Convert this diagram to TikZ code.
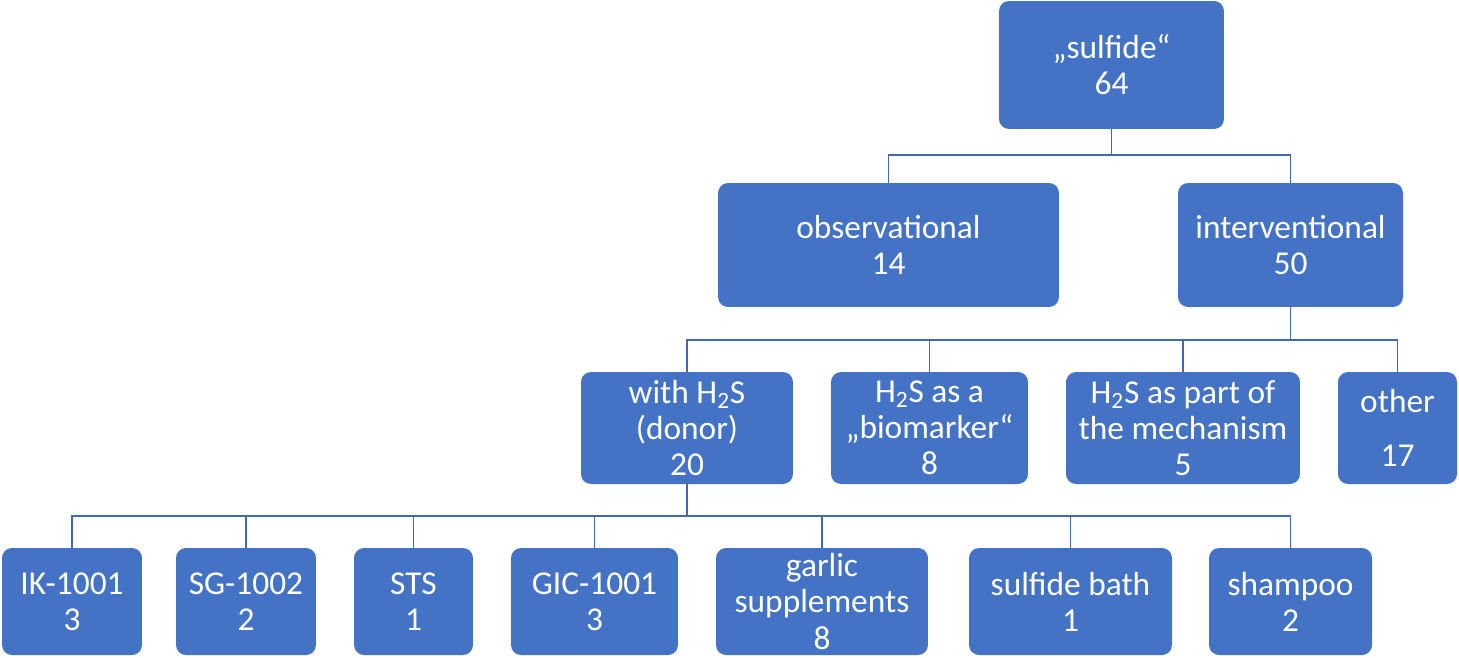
\documentclass[tikz,border=0pt]{standalone}
\usepackage{fontspec}
\setmainfont{Carlito}
\usepackage{tikz}
\usetikzlibrary{positioning}

\definecolor{boxblue}{HTML}{4472C4}
\definecolor{linkblue}{HTML}{3F68B5}

\tikzset{
  box/.style={fill=boxblue, text=white, rounded corners=0.2cm, align=center,
    inner sep=0pt, font=\fontsize{19}{20.5}\selectfont},
  link/.style={draw=linkblue, line width=1pt}
}

\begin{document}
\begin{tikzpicture}[x=0.02cm,y=-0.02cm]
			\useasboundingbox (0,0) rectangle (1459,657);
			% top
			\node[box, minimum width=4.5cm, minimum height=2.56cm] (sulfide) at (1111.5,65) {„sulfide“\\64};
			% second row
			\node[box, minimum width=6.82cm, minimum height=2.48cm] (obs) at (888.5,245) {observational\\14};
			\node[box, minimum width=4.5cm, minimum height=2.48cm] (interv) at (1290.5,245) {interventional\\50};
			% third row
			\node[box, minimum width=4.24cm, minimum height=2.24cm] (donor) at (687,428) {with H\textsubscript{2}S\\(donor)\\20};
			\node[box, minimum width=3.94cm, minimum height=2.24cm] (marker) at (929.5,428) {H\textsubscript{2}S as a\\„biomarker“\\8};
			\node[box, minimum width=4.68cm, minimum height=2.24cm] (mech) at (1183,428) {H\textsubscript{2}S as part of\\the mechanism\\5};
			\node[box, minimum width=2.38cm, minimum height=2.24cm] (other) at (1397.5,428) {other\\[10pt]17};
			% donors
			\node[box, minimum width=2.8cm, minimum height=2.14cm] (ik) at (72,601.5) {IK-1001\\3};
			\node[box, minimum width=2.8cm, minimum height=2.14cm] (sg) at (246,601.5) {SG-1002\\2};
			\node[box, minimum width=2.38cm, minimum height=2.14cm] (sts) at (413.5,601.5) {STS\\1};
			\node[box, minimum width=3.34cm, minimum height=2.14cm] (gic) at (594.5,601.5) {GIC-1001\\3};
			\node[box, minimum width=4.24cm, minimum height=2.14cm] (garlic) at (822,601.5) {garlic\\supplements\\8};
			\node[box, minimum width=4.06cm, minimum height=2.14cm] (bath) at (1070.5,601.5) {sulfide bath\\1};
			\node[box, minimum width=3.26cm, minimum height=2.14cm] (shampoo) at (1290.5,601.5) {shampoo\\2};
			% connectors
			\draw[link] (sulfide.south) -- ++(0,26) -| (obs.north);
			\draw[link] (sulfide.south) -- ++(0,26) -| (interv.north);
			\draw[link] (interv.south) -- ++(0,33) -| (donor.north);
			\draw[link] (interv.south) -- ++(0,33) -| (marker.north);
			\draw[link] (interv.south) -- ++(0,33) -| (mech.north);
			\draw[link] (interv.south) -- ++(0,33) -| (other.north);
			\draw[link] (donor.south) -- ++(0,32) -| (ik.north);
			\draw[link] (donor.south) -- ++(0,32) -| (sg.north);
			\draw[link] (donor.south) -- ++(0,32) -| (sts.north);
			\draw[link] (donor.south) -- ++(0,32) -| (gic.north);
			\draw[link] (donor.south) -- ++(0,32) -| (garlic.north);
			\draw[link] (donor.south) -- ++(0,32) -| (bath.north);
			\draw[link] (donor.south) -- ++(0,32) -| (shampoo.north);
		\end{tikzpicture}
\end{document}
